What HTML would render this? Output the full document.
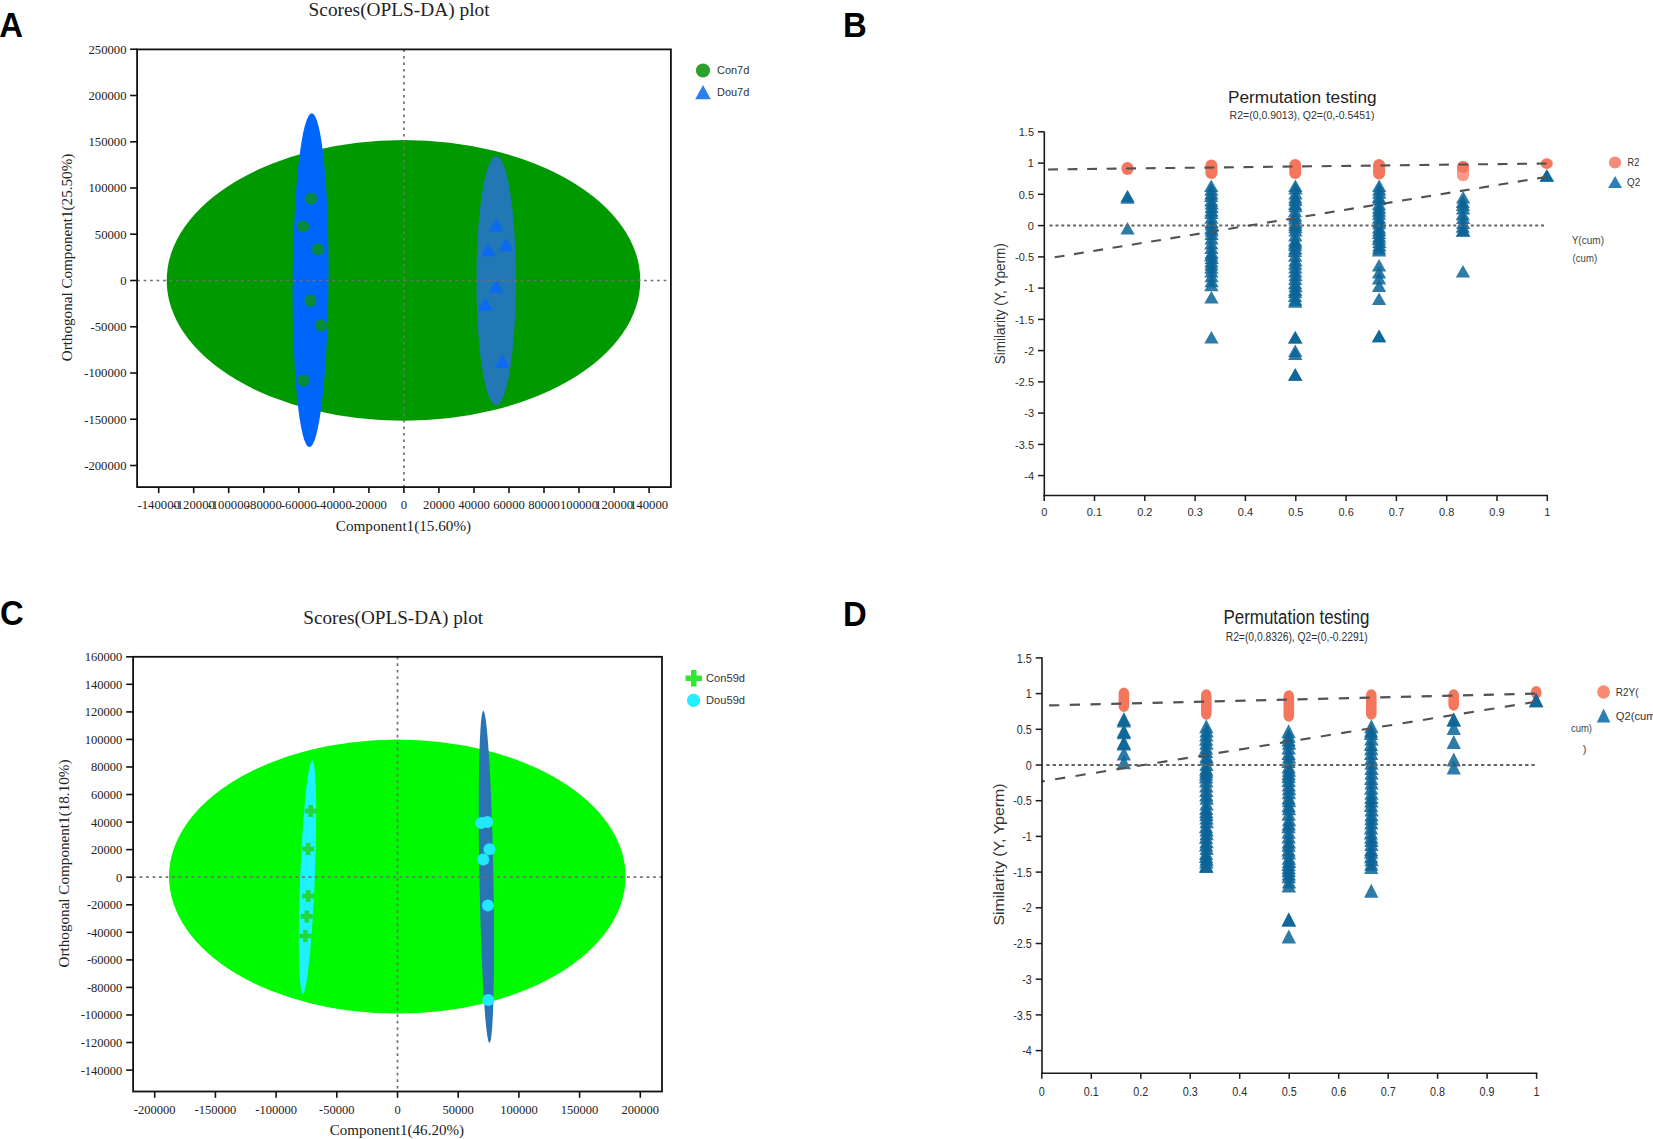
<!DOCTYPE html>
<html><head><meta charset="utf-8"><title>OPLS-DA and permutation testing</title>
<style>html,body{margin:0;padding:0;background:#fff;}svg{display:block;}</style></head>
<body><svg width="1653" height="1139" viewBox="0 0 1653 1139">
<rect width="1653" height="1139" fill="#fff"/>
<text x="0" y="0" transform="translate(-0.8 37.1) scale(0.95 1)" font-family="'Liberation Sans',Arial,sans-serif" font-size="34.6" font-weight="bold" fill="#000">A</text>
<text x="0" y="0" transform="translate(843.0 37.3) scale(0.95 1)" font-family="'Liberation Sans',Arial,sans-serif" font-size="34.6" font-weight="bold" fill="#000">B</text>
<text x="0" y="0" transform="translate(0.0 625.2) scale(0.95 1)" font-family="'Liberation Sans',Arial,sans-serif" font-size="34.6" font-weight="bold" fill="#000">C</text>
<text x="0" y="0" transform="translate(843.0 625.6) scale(0.95 1)" font-family="'Liberation Sans',Arial,sans-serif" font-size="34.6" font-weight="bold" fill="#000">D</text>
<ellipse cx="403.5" cy="280.4" rx="236.8" ry="140.3" fill="#009a00"/>
<ellipse cx="310.6" cy="280.2" rx="17.9" ry="167.0" fill="#0066fb" transform="rotate(0.4 310.6 280.2)"/>
<ellipse cx="496.2" cy="280.7" rx="19.7" ry="124.7" fill="#2178b5"/>
<circle cx="311.1" cy="198.7" r="6.0" fill="#088c3c" fill-opacity="1.0"/>
<circle cx="303.2" cy="226.5" r="6.0" fill="#088c3c" fill-opacity="1.0"/>
<circle cx="318.1" cy="249.2" r="6.0" fill="#088c3c" fill-opacity="1.0"/>
<circle cx="310.5" cy="300.8" r="6.0" fill="#088c3c" fill-opacity="1.0"/>
<circle cx="321.2" cy="325.5" r="6.0" fill="#088c3c" fill-opacity="1.0"/>
<circle cx="303.5" cy="380.5" r="6.0" fill="#088c3c" fill-opacity="1.0"/>
<polygon points="489.0,231.6 503.8,231.6 496.4,218.3" fill="#0b6af0" fill-opacity="1.0"/>
<polygon points="498.6,251.3 513.4,251.3 506.0,238.0" fill="#0b6af0" fill-opacity="1.0"/>
<polygon points="480.9,256.2 495.7,256.2 488.3,242.9" fill="#0b6af0" fill-opacity="1.0"/>
<polygon points="489.0,292.8 503.8,292.8 496.4,279.5" fill="#0b6af0" fill-opacity="1.0"/>
<polygon points="478.0,310.8 492.8,310.8 485.4,297.5" fill="#0b6af0" fill-opacity="1.0"/>
<polygon points="494.9,367.9 509.7,367.9 502.3,354.6" fill="#0b6af0" fill-opacity="1.0"/>
<line x1="403.9" y1="49.4" x2="403.9" y2="487.1" stroke="#707070" stroke-width="1.7" stroke-dasharray="2.7 3.8" />
<line x1="137.1" y1="280.5" x2="670.9" y2="280.5" stroke="#707070" stroke-width="1.7" stroke-dasharray="2.7 3.8" />
<rect x="137.1" y="49.4" width="533.8" height="437.7" fill="none" stroke="#111" stroke-width="1.8"/>
<line x1="130.1" y1="49.2" x2="137.1" y2="49.2" stroke="#111" stroke-width="1.6" />
<text x="126.5" y="53.5" font-family="'Liberation Serif','Times New Roman',serif" font-size="12.7" fill="#222" text-anchor="end" >250000</text>
<line x1="130.1" y1="95.5" x2="137.1" y2="95.5" stroke="#111" stroke-width="1.6" />
<text x="126.5" y="99.8" font-family="'Liberation Serif','Times New Roman',serif" font-size="12.7" fill="#222" text-anchor="end" >200000</text>
<line x1="130.1" y1="141.8" x2="137.1" y2="141.8" stroke="#111" stroke-width="1.6" />
<text x="126.5" y="146.1" font-family="'Liberation Serif','Times New Roman',serif" font-size="12.7" fill="#222" text-anchor="end" >150000</text>
<line x1="130.1" y1="188.0" x2="137.1" y2="188.0" stroke="#111" stroke-width="1.6" />
<text x="126.5" y="192.3" font-family="'Liberation Serif','Times New Roman',serif" font-size="12.7" fill="#222" text-anchor="end" >100000</text>
<line x1="130.1" y1="234.2" x2="137.1" y2="234.2" stroke="#111" stroke-width="1.6" />
<text x="126.5" y="238.6" font-family="'Liberation Serif','Times New Roman',serif" font-size="12.7" fill="#222" text-anchor="end" >50000</text>
<line x1="130.1" y1="280.5" x2="137.1" y2="280.5" stroke="#111" stroke-width="1.6" />
<text x="126.5" y="284.8" font-family="'Liberation Serif','Times New Roman',serif" font-size="12.7" fill="#222" text-anchor="end" >0</text>
<line x1="130.1" y1="326.8" x2="137.1" y2="326.8" stroke="#111" stroke-width="1.6" />
<text x="126.5" y="331.1" font-family="'Liberation Serif','Times New Roman',serif" font-size="12.7" fill="#222" text-anchor="end" >-50000</text>
<line x1="130.1" y1="373.0" x2="137.1" y2="373.0" stroke="#111" stroke-width="1.6" />
<text x="126.5" y="377.3" font-family="'Liberation Serif','Times New Roman',serif" font-size="12.7" fill="#222" text-anchor="end" >-100000</text>
<line x1="130.1" y1="419.2" x2="137.1" y2="419.2" stroke="#111" stroke-width="1.6" />
<text x="126.5" y="423.6" font-family="'Liberation Serif','Times New Roman',serif" font-size="12.7" fill="#222" text-anchor="end" >-150000</text>
<line x1="130.1" y1="465.5" x2="137.1" y2="465.5" stroke="#111" stroke-width="1.6" />
<text x="126.5" y="469.8" font-family="'Liberation Serif','Times New Roman',serif" font-size="12.7" fill="#222" text-anchor="end" >-200000</text>
<line x1="158.7" y1="487.1" x2="158.7" y2="493.1" stroke="#111" stroke-width="1.6" />
<text x="158.7" y="508.8" font-family="'Liberation Serif','Times New Roman',serif" font-size="12.7" fill="#222" text-anchor="middle" >-140000</text>
<line x1="193.7" y1="487.1" x2="193.7" y2="493.1" stroke="#111" stroke-width="1.6" />
<text x="193.7" y="508.8" font-family="'Liberation Serif','Times New Roman',serif" font-size="12.7" fill="#222" text-anchor="middle" >-120000</text>
<line x1="228.7" y1="487.1" x2="228.7" y2="493.1" stroke="#111" stroke-width="1.6" />
<text x="228.7" y="508.8" font-family="'Liberation Serif','Times New Roman',serif" font-size="12.7" fill="#222" text-anchor="middle" >-100000</text>
<line x1="263.8" y1="487.1" x2="263.8" y2="493.1" stroke="#111" stroke-width="1.6" />
<text x="263.8" y="508.8" font-family="'Liberation Serif','Times New Roman',serif" font-size="12.7" fill="#222" text-anchor="middle" >-80000</text>
<line x1="298.8" y1="487.1" x2="298.8" y2="493.1" stroke="#111" stroke-width="1.6" />
<text x="298.8" y="508.8" font-family="'Liberation Serif','Times New Roman',serif" font-size="12.7" fill="#222" text-anchor="middle" >-60000</text>
<line x1="333.8" y1="487.1" x2="333.8" y2="493.1" stroke="#111" stroke-width="1.6" />
<text x="333.8" y="508.8" font-family="'Liberation Serif','Times New Roman',serif" font-size="12.7" fill="#222" text-anchor="middle" >-40000</text>
<line x1="368.9" y1="487.1" x2="368.9" y2="493.1" stroke="#111" stroke-width="1.6" />
<text x="368.9" y="508.8" font-family="'Liberation Serif','Times New Roman',serif" font-size="12.7" fill="#222" text-anchor="middle" >-20000</text>
<line x1="403.9" y1="487.1" x2="403.9" y2="493.1" stroke="#111" stroke-width="1.6" />
<text x="403.9" y="508.8" font-family="'Liberation Serif','Times New Roman',serif" font-size="12.7" fill="#222" text-anchor="middle" >0</text>
<line x1="438.9" y1="487.1" x2="438.9" y2="493.1" stroke="#111" stroke-width="1.6" />
<text x="438.9" y="508.8" font-family="'Liberation Serif','Times New Roman',serif" font-size="12.7" fill="#222" text-anchor="middle" >20000</text>
<line x1="474.0" y1="487.1" x2="474.0" y2="493.1" stroke="#111" stroke-width="1.6" />
<text x="474.0" y="508.8" font-family="'Liberation Serif','Times New Roman',serif" font-size="12.7" fill="#222" text-anchor="middle" >40000</text>
<line x1="509.0" y1="487.1" x2="509.0" y2="493.1" stroke="#111" stroke-width="1.6" />
<text x="509.0" y="508.8" font-family="'Liberation Serif','Times New Roman',serif" font-size="12.7" fill="#222" text-anchor="middle" >60000</text>
<line x1="544.0" y1="487.1" x2="544.0" y2="493.1" stroke="#111" stroke-width="1.6" />
<text x="544.0" y="508.8" font-family="'Liberation Serif','Times New Roman',serif" font-size="12.7" fill="#222" text-anchor="middle" >80000</text>
<line x1="579.0" y1="487.1" x2="579.0" y2="493.1" stroke="#111" stroke-width="1.6" />
<text x="579.0" y="508.8" font-family="'Liberation Serif','Times New Roman',serif" font-size="12.7" fill="#222" text-anchor="middle" >100000</text>
<line x1="614.1" y1="487.1" x2="614.1" y2="493.1" stroke="#111" stroke-width="1.6" />
<text x="614.1" y="508.8" font-family="'Liberation Serif','Times New Roman',serif" font-size="12.7" fill="#222" text-anchor="middle" >120000</text>
<line x1="649.1" y1="487.1" x2="649.1" y2="493.1" stroke="#111" stroke-width="1.6" />
<text x="649.1" y="508.8" font-family="'Liberation Serif','Times New Roman',serif" font-size="12.7" fill="#222" text-anchor="middle" >140000</text>
<text x="308.6" y="16.0" font-family="'Liberation Serif','Times New Roman',serif" font-size="19" fill="#222" textLength="181.0" lengthAdjust="spacingAndGlyphs" >Scores(OPLS-DA) plot</text>
<text x="335.8" y="530.8" font-family="'Liberation Serif','Times New Roman',serif" font-size="15" fill="#222" textLength="135.3" lengthAdjust="spacingAndGlyphs" >Component1(15.60%)</text>
<text x="0.0" y="0.0" font-family="'Liberation Serif','Times New Roman',serif" font-size="15" fill="#222" text-anchor="middle" textLength="207.6" lengthAdjust="spacingAndGlyphs" transform="translate(72.2 257.5) rotate(-90)">Orthogonal Component1(25.50%)</text>
<circle cx="703.0" cy="70.5" r="7.1" fill="#2ca02c" fill-opacity="1.0"/>
<text x="717.0" y="74.1" font-family="'Liberation Sans',Arial,sans-serif" font-size="11" fill="#333" textLength="32.3" lengthAdjust="spacingAndGlyphs" >Con7d</text>
<polygon points="695.2,99.2 710.8,99.2 703.0,85.0" fill="#2e7fea" fill-opacity="1.0"/>
<text x="717.0" y="96.3" font-family="'Liberation Sans',Arial,sans-serif" font-size="11" fill="#333" textLength="32.3" lengthAdjust="spacingAndGlyphs" >Dou7d</text>
<ellipse cx="397.3" cy="876.6" rx="228.3" ry="137.0" fill="#00fb00"/>
<ellipse cx="307.5" cy="877.1" rx="7.3" ry="117.0" fill="#1ef2fe" transform="rotate(2.3 307.5 877.1)"/>
<ellipse cx="486.4" cy="876.9" rx="7.0" ry="166.2" fill="#2a74b4" transform="rotate(-1.07 486.4 876.9)"/>
<path d="M308.4,805.1h4.6v3.7h3.7v4.6h-3.7v3.7h-4.6v-3.7h-3.7v-4.6h3.7z" fill="#20d83a"/>
<path d="M305.9,843.0h4.6v3.7h3.7v4.6h-3.7v3.7h-4.6v-3.7h-3.7v-4.6h3.7z" fill="#20d83a"/>
<path d="M305.9,890.0h4.6v3.7h3.7v4.6h-3.7v3.7h-4.6v-3.7h-3.7v-4.6h3.7z" fill="#20d83a"/>
<path d="M304.5,910.4h4.6v3.7h3.7v4.6h-3.7v3.7h-4.6v-3.7h-3.7v-4.6h3.7z" fill="#20d83a"/>
<path d="M303.1,930.0h4.6v3.7h3.7v4.6h-3.7v3.7h-4.6v-3.7h-3.7v-4.6h3.7z" fill="#20d83a"/>
<circle cx="481.2" cy="823.0" r="6.0" fill="#22e8fb" fill-opacity="1.0"/>
<circle cx="487.3" cy="822.0" r="6.0" fill="#22e8fb" fill-opacity="1.0"/>
<circle cx="489.5" cy="849.2" r="6.0" fill="#22e8fb" fill-opacity="1.0"/>
<circle cx="483.3" cy="859.4" r="6.0" fill="#22e8fb" fill-opacity="1.0"/>
<circle cx="487.9" cy="905.5" r="6.0" fill="#22e8fb" fill-opacity="1.0"/>
<circle cx="488.2" cy="1000.0" r="6.0" fill="#22e8fb" fill-opacity="1.0"/>
<line x1="397.5" y1="656.8" x2="397.5" y2="1091.5" stroke="#707070" stroke-width="1.7" stroke-dasharray="2.7 3.8" />
<line x1="133.1" y1="877.2" x2="662.0" y2="877.2" stroke="#707070" stroke-width="1.7" stroke-dasharray="2.7 3.8" />
<rect x="133.1" y="656.8" width="528.9" height="434.7" fill="none" stroke="#111" stroke-width="1.8"/>
<line x1="126.2" y1="656.8" x2="133.1" y2="656.8" stroke="#111" stroke-width="1.6" />
<text x="122.3" y="661.2" font-family="'Liberation Serif','Times New Roman',serif" font-size="12.5" fill="#222" text-anchor="end" >160000</text>
<line x1="126.2" y1="684.3" x2="133.1" y2="684.3" stroke="#111" stroke-width="1.6" />
<text x="122.3" y="688.7" font-family="'Liberation Serif','Times New Roman',serif" font-size="12.5" fill="#222" text-anchor="end" >140000</text>
<line x1="126.2" y1="711.9" x2="133.1" y2="711.9" stroke="#111" stroke-width="1.6" />
<text x="122.3" y="716.3" font-family="'Liberation Serif','Times New Roman',serif" font-size="12.5" fill="#222" text-anchor="end" >120000</text>
<line x1="126.2" y1="739.4" x2="133.1" y2="739.4" stroke="#111" stroke-width="1.6" />
<text x="122.3" y="743.8" font-family="'Liberation Serif','Times New Roman',serif" font-size="12.5" fill="#222" text-anchor="end" >100000</text>
<line x1="126.2" y1="767.0" x2="133.1" y2="767.0" stroke="#111" stroke-width="1.6" />
<text x="122.3" y="771.4" font-family="'Liberation Serif','Times New Roman',serif" font-size="12.5" fill="#222" text-anchor="end" >80000</text>
<line x1="126.2" y1="794.5" x2="133.1" y2="794.5" stroke="#111" stroke-width="1.6" />
<text x="122.3" y="798.9" font-family="'Liberation Serif','Times New Roman',serif" font-size="12.5" fill="#222" text-anchor="end" >60000</text>
<line x1="126.2" y1="822.1" x2="133.1" y2="822.1" stroke="#111" stroke-width="1.6" />
<text x="122.3" y="826.5" font-family="'Liberation Serif','Times New Roman',serif" font-size="12.5" fill="#222" text-anchor="end" >40000</text>
<line x1="126.2" y1="849.6" x2="133.1" y2="849.6" stroke="#111" stroke-width="1.6" />
<text x="122.3" y="854.0" font-family="'Liberation Serif','Times New Roman',serif" font-size="12.5" fill="#222" text-anchor="end" >20000</text>
<line x1="126.2" y1="877.2" x2="133.1" y2="877.2" stroke="#111" stroke-width="1.6" />
<text x="122.3" y="881.6" font-family="'Liberation Serif','Times New Roman',serif" font-size="12.5" fill="#222" text-anchor="end" >0</text>
<line x1="126.2" y1="904.8" x2="133.1" y2="904.8" stroke="#111" stroke-width="1.6" />
<text x="122.3" y="909.2" font-family="'Liberation Serif','Times New Roman',serif" font-size="12.5" fill="#222" text-anchor="end" >-20000</text>
<line x1="126.2" y1="932.3" x2="133.1" y2="932.3" stroke="#111" stroke-width="1.6" />
<text x="122.3" y="936.7" font-family="'Liberation Serif','Times New Roman',serif" font-size="12.5" fill="#222" text-anchor="end" >-40000</text>
<line x1="126.2" y1="959.9" x2="133.1" y2="959.9" stroke="#111" stroke-width="1.6" />
<text x="122.3" y="964.3" font-family="'Liberation Serif','Times New Roman',serif" font-size="12.5" fill="#222" text-anchor="end" >-60000</text>
<line x1="126.2" y1="987.4" x2="133.1" y2="987.4" stroke="#111" stroke-width="1.6" />
<text x="122.3" y="991.8" font-family="'Liberation Serif','Times New Roman',serif" font-size="12.5" fill="#222" text-anchor="end" >-80000</text>
<line x1="126.2" y1="1015.0" x2="133.1" y2="1015.0" stroke="#111" stroke-width="1.6" />
<text x="122.3" y="1019.4" font-family="'Liberation Serif','Times New Roman',serif" font-size="12.5" fill="#222" text-anchor="end" >-100000</text>
<line x1="126.2" y1="1042.5" x2="133.1" y2="1042.5" stroke="#111" stroke-width="1.6" />
<text x="122.3" y="1046.9" font-family="'Liberation Serif','Times New Roman',serif" font-size="12.5" fill="#222" text-anchor="end" >-120000</text>
<line x1="126.2" y1="1070.1" x2="133.1" y2="1070.1" stroke="#111" stroke-width="1.6" />
<text x="122.3" y="1074.5" font-family="'Liberation Serif','Times New Roman',serif" font-size="12.5" fill="#222" text-anchor="end" >-140000</text>
<line x1="154.7" y1="1091.5" x2="154.7" y2="1097.8" stroke="#111" stroke-width="1.6" />
<text x="154.7" y="1114.3" font-family="'Liberation Serif','Times New Roman',serif" font-size="12.5" fill="#222" text-anchor="middle" >-200000</text>
<line x1="215.4" y1="1091.5" x2="215.4" y2="1097.8" stroke="#111" stroke-width="1.6" />
<text x="215.4" y="1114.3" font-family="'Liberation Serif','Times New Roman',serif" font-size="12.5" fill="#222" text-anchor="middle" >-150000</text>
<line x1="276.1" y1="1091.5" x2="276.1" y2="1097.8" stroke="#111" stroke-width="1.6" />
<text x="276.1" y="1114.3" font-family="'Liberation Serif','Times New Roman',serif" font-size="12.5" fill="#222" text-anchor="middle" >-100000</text>
<line x1="336.8" y1="1091.5" x2="336.8" y2="1097.8" stroke="#111" stroke-width="1.6" />
<text x="336.8" y="1114.3" font-family="'Liberation Serif','Times New Roman',serif" font-size="12.5" fill="#222" text-anchor="middle" >-50000</text>
<line x1="397.5" y1="1091.5" x2="397.5" y2="1097.8" stroke="#111" stroke-width="1.6" />
<text x="397.5" y="1114.3" font-family="'Liberation Serif','Times New Roman',serif" font-size="12.5" fill="#222" text-anchor="middle" >0</text>
<line x1="458.2" y1="1091.5" x2="458.2" y2="1097.8" stroke="#111" stroke-width="1.6" />
<text x="458.2" y="1114.3" font-family="'Liberation Serif','Times New Roman',serif" font-size="12.5" fill="#222" text-anchor="middle" >50000</text>
<line x1="518.9" y1="1091.5" x2="518.9" y2="1097.8" stroke="#111" stroke-width="1.6" />
<text x="518.9" y="1114.3" font-family="'Liberation Serif','Times New Roman',serif" font-size="12.5" fill="#222" text-anchor="middle" >100000</text>
<line x1="579.6" y1="1091.5" x2="579.6" y2="1097.8" stroke="#111" stroke-width="1.6" />
<text x="579.6" y="1114.3" font-family="'Liberation Serif','Times New Roman',serif" font-size="12.5" fill="#222" text-anchor="middle" >150000</text>
<line x1="640.3" y1="1091.5" x2="640.3" y2="1097.8" stroke="#111" stroke-width="1.6" />
<text x="640.3" y="1114.3" font-family="'Liberation Serif','Times New Roman',serif" font-size="12.5" fill="#222" text-anchor="middle" >200000</text>
<text x="303.3" y="623.8" font-family="'Liberation Serif','Times New Roman',serif" font-size="19" fill="#222" textLength="179.8" lengthAdjust="spacingAndGlyphs" >Scores(OPLS-DA) plot</text>
<text x="329.8" y="1134.7" font-family="'Liberation Serif','Times New Roman',serif" font-size="15" fill="#222" textLength="134.2" lengthAdjust="spacingAndGlyphs" >Component1(46.20%)</text>
<text x="0.0" y="0.0" font-family="'Liberation Serif','Times New Roman',serif" font-size="15" fill="#222" text-anchor="middle" textLength="207.9" lengthAdjust="spacingAndGlyphs" transform="translate(69.3 863.5) rotate(-90)">Orthogonal Component1(18.10%)</text>
<path d="M691.0,669.9h5.5v5.5h5.5v5.5h-5.5v5.5h-5.5v-5.5h-5.5v-5.5h5.5z" fill="#33e633"/>
<text x="706.1" y="681.9" font-family="'Liberation Sans',Arial,sans-serif" font-size="11" fill="#333" textLength="38.9" lengthAdjust="spacingAndGlyphs" >Con59d</text>
<circle cx="693.5" cy="700.3" r="6.6" fill="#22f0ff" fill-opacity="1.0"/>
<text x="706.1" y="704.3" font-family="'Liberation Sans',Arial,sans-serif" font-size="11" fill="#333" textLength="38.9" lengthAdjust="spacingAndGlyphs" >Dou59d</text>
<path d="M1121.5,168.0 A6.0,6.0 0 0 1 1133.5,168.0 L1133.5,169.0 A6.0,6.0 0 0 1 1121.5,169.0 Z" fill="#f4765c" fill-opacity="1.0"/>
<path d="M1205.4,165.5 A6.0,6.0 0 0 1 1217.4,165.5 L1217.4,172.9 A6.0,6.0 0 0 1 1205.4,172.9 Z" fill="#f4765c" fill-opacity="1.0"/>
<path d="M1289.2,164.9 A6.0,6.0 0 0 1 1301.2,164.9 L1301.2,172.9 A6.0,6.0 0 0 1 1289.2,172.9 Z" fill="#f4765c" fill-opacity="1.0"/>
<path d="M1373.1,164.9 A6.0,6.0 0 0 1 1385.1,164.9 L1385.1,173.5 A6.0,6.0 0 0 1 1373.1,173.5 Z" fill="#f4765c" fill-opacity="1.0"/>
<path d="M1457.0,167.0 A6.0,6.0 0 0 1 1469.0,167.0 L1469.0,175.2 A6.0,6.0 0 0 1 1457.0,175.2 Z" fill="#f8998a" fill-opacity="1.0"/>
<ellipse cx="1463.0" cy="167.0" rx="6.0" ry="6.0" fill="#f4765c" fill-opacity="1.0"/>
<ellipse cx="1546.8" cy="163.6" rx="6.0" ry="5.3" fill="#f4765c" fill-opacity="1.0"/>
<polygon points="1120.4,202.3 1134.7,202.3 1127.5,189.8" fill="#0a6498" fill-opacity="0.85"/>
<polygon points="1120.4,203.8 1134.7,203.8 1127.5,191.3" fill="#0a6498" fill-opacity="0.85"/>
<polygon points="1120.4,234.4 1134.7,234.4 1127.5,221.9" fill="#0a6498" fill-opacity="0.85"/>
<polygon points="1204.1,192.0 1218.4,192.0 1211.2,179.5" fill="#0a6498" fill-opacity="0.85"/>
<polygon points="1204.2,195.7 1218.5,195.7 1211.3,183.2" fill="#0a6498" fill-opacity="0.85"/>
<polygon points="1204.3,199.6 1218.6,199.6 1211.5,187.1" fill="#0a6498" fill-opacity="0.85"/>
<polygon points="1204.0,202.0 1218.3,202.0 1211.1,189.5" fill="#0a6498" fill-opacity="0.85"/>
<polygon points="1204.1,206.5 1218.4,206.5 1211.3,194.0" fill="#0a6498" fill-opacity="0.85"/>
<polygon points="1204.5,209.4 1218.8,209.4 1211.7,196.9" fill="#0a6498" fill-opacity="0.85"/>
<polygon points="1204.5,212.9 1218.8,212.9 1211.6,200.4" fill="#0a6498" fill-opacity="0.85"/>
<polygon points="1204.3,216.4 1218.6,216.4 1211.5,203.9" fill="#0a6498" fill-opacity="0.85"/>
<polygon points="1204.3,219.0 1218.6,219.0 1211.5,206.5" fill="#0a6498" fill-opacity="0.85"/>
<polygon points="1204.3,223.7 1218.6,223.7 1211.4,211.2" fill="#0a6498" fill-opacity="0.85"/>
<polygon points="1204.4,228.0 1218.7,228.0 1211.5,215.5" fill="#0a6498" fill-opacity="0.85"/>
<polygon points="1204.4,230.3 1218.7,230.3 1211.6,217.8" fill="#0a6498" fill-opacity="0.85"/>
<polygon points="1204.1,234.2 1218.4,234.2 1211.3,221.7" fill="#0a6498" fill-opacity="0.85"/>
<polygon points="1204.5,236.4 1218.8,236.4 1211.6,223.9" fill="#0a6498" fill-opacity="0.85"/>
<polygon points="1204.4,240.0 1218.7,240.0 1211.5,227.5" fill="#0a6498" fill-opacity="0.85"/>
<polygon points="1204.4,244.6 1218.7,244.6 1211.5,232.1" fill="#0a6498" fill-opacity="0.85"/>
<polygon points="1204.2,249.5 1218.5,249.5 1211.3,237.0" fill="#0a6498" fill-opacity="0.85"/>
<polygon points="1204.2,253.9 1218.5,253.9 1211.4,241.4" fill="#0a6498" fill-opacity="0.85"/>
<polygon points="1204.5,258.8 1218.8,258.8 1211.6,246.3" fill="#0a6498" fill-opacity="0.85"/>
<polygon points="1204.0,261.2 1218.3,261.2 1211.2,248.7" fill="#0a6498" fill-opacity="0.85"/>
<polygon points="1204.5,264.0 1218.8,264.0 1211.7,251.5" fill="#0a6498" fill-opacity="0.85"/>
<polygon points="1204.3,267.4 1218.6,267.4 1211.5,254.9" fill="#0a6498" fill-opacity="0.85"/>
<polygon points="1204.3,270.4 1218.6,270.4 1211.4,257.9" fill="#0a6498" fill-opacity="0.85"/>
<polygon points="1204.2,273.7 1218.5,273.7 1211.3,261.2" fill="#0a6498" fill-opacity="0.85"/>
<polygon points="1204.3,277.6 1218.6,277.6 1211.5,265.1" fill="#0a6498" fill-opacity="0.85"/>
<polygon points="1204.4,282.3 1218.7,282.3 1211.5,269.8" fill="#0a6498" fill-opacity="0.85"/>
<polygon points="1204.5,287.2 1218.8,287.2 1211.6,274.7" fill="#0a6498" fill-opacity="0.85"/>
<polygon points="1204.2,291.2 1218.6,291.2 1211.4,278.7" fill="#0a6498" fill-opacity="0.85"/>
<polygon points="1204.2,303.5 1218.6,303.5 1211.4,291.0" fill="#0a6498" fill-opacity="0.85"/>
<polygon points="1204.2,343.5 1218.6,343.5 1211.4,331.0" fill="#0a6498" fill-opacity="0.85"/>
<polygon points="1288.2,192.0 1302.5,192.0 1295.4,179.5" fill="#0a6498" fill-opacity="0.85"/>
<polygon points="1288.3,194.6 1302.6,194.6 1295.5,182.1" fill="#0a6498" fill-opacity="0.85"/>
<polygon points="1288.3,199.6 1302.6,199.6 1295.5,187.1" fill="#0a6498" fill-opacity="0.85"/>
<polygon points="1288.2,203.4 1302.5,203.4 1295.4,190.9" fill="#0a6498" fill-opacity="0.85"/>
<polygon points="1288.3,206.1 1302.6,206.1 1295.4,193.6" fill="#0a6498" fill-opacity="0.85"/>
<polygon points="1288.0,209.9 1302.3,209.9 1295.1,197.4" fill="#0a6498" fill-opacity="0.85"/>
<polygon points="1288.3,212.3 1302.6,212.3 1295.5,199.8" fill="#0a6498" fill-opacity="0.85"/>
<polygon points="1287.9,217.3 1302.2,217.3 1295.0,204.8" fill="#0a6498" fill-opacity="0.85"/>
<polygon points="1288.0,221.8 1302.3,221.8 1295.2,209.3" fill="#0a6498" fill-opacity="0.85"/>
<polygon points="1288.0,224.4 1302.3,224.4 1295.1,211.9" fill="#0a6498" fill-opacity="0.85"/>
<polygon points="1288.3,228.7 1302.6,228.7 1295.5,216.2" fill="#0a6498" fill-opacity="0.85"/>
<polygon points="1288.2,231.0 1302.5,231.0 1295.3,218.5" fill="#0a6498" fill-opacity="0.85"/>
<polygon points="1288.2,233.3 1302.5,233.3 1295.4,220.8" fill="#0a6498" fill-opacity="0.85"/>
<polygon points="1288.3,236.4 1302.6,236.4 1295.5,223.9" fill="#0a6498" fill-opacity="0.85"/>
<polygon points="1288.1,241.4 1302.4,241.4 1295.3,228.9" fill="#0a6498" fill-opacity="0.85"/>
<polygon points="1288.0,246.4 1302.3,246.4 1295.1,233.9" fill="#0a6498" fill-opacity="0.85"/>
<polygon points="1288.2,248.8 1302.5,248.8 1295.3,236.3" fill="#0a6498" fill-opacity="0.85"/>
<polygon points="1287.9,251.1 1302.2,251.1 1295.1,238.6" fill="#0a6498" fill-opacity="0.85"/>
<polygon points="1288.2,254.4 1302.5,254.4 1295.3,241.9" fill="#0a6498" fill-opacity="0.85"/>
<polygon points="1287.8,257.0 1302.1,257.0 1295.0,244.5" fill="#0a6498" fill-opacity="0.85"/>
<polygon points="1288.0,261.7 1302.3,261.7 1295.1,249.2" fill="#0a6498" fill-opacity="0.85"/>
<polygon points="1288.3,266.6 1302.6,266.6 1295.5,254.1" fill="#0a6498" fill-opacity="0.85"/>
<polygon points="1288.1,269.8 1302.4,269.8 1295.2,257.3" fill="#0a6498" fill-opacity="0.85"/>
<polygon points="1288.2,273.5 1302.5,273.5 1295.3,261.0" fill="#0a6498" fill-opacity="0.85"/>
<polygon points="1288.1,277.4 1302.4,277.4 1295.3,264.9" fill="#0a6498" fill-opacity="0.85"/>
<polygon points="1288.4,281.3 1302.7,281.3 1295.5,268.8" fill="#0a6498" fill-opacity="0.85"/>
<polygon points="1288.1,284.9 1302.4,284.9 1295.2,272.4" fill="#0a6498" fill-opacity="0.85"/>
<polygon points="1287.9,289.2 1302.2,289.2 1295.1,276.7" fill="#0a6498" fill-opacity="0.85"/>
<polygon points="1288.4,292.2 1302.7,292.2 1295.5,279.7" fill="#0a6498" fill-opacity="0.85"/>
<polygon points="1288.1,295.9 1302.4,295.9 1295.3,283.4" fill="#0a6498" fill-opacity="0.85"/>
<polygon points="1288.0,298.1 1302.3,298.1 1295.2,285.6" fill="#0a6498" fill-opacity="0.85"/>
<polygon points="1287.8,301.9 1302.1,301.9 1295.0,289.4" fill="#0a6498" fill-opacity="0.85"/>
<polygon points="1288.2,305.8 1302.5,305.8 1295.3,293.3" fill="#0a6498" fill-opacity="0.85"/>
<polygon points="1288.1,307.7 1302.4,307.7 1295.2,295.2" fill="#0a6498" fill-opacity="0.85"/>
<polygon points="1288.1,343.5 1302.4,343.5 1295.2,331.0" fill="#0a6498" fill-opacity="0.85"/>
<polygon points="1288.1,343.5 1302.4,343.5 1295.2,331.0" fill="#0a6498" fill-opacity="0.85"/>
<polygon points="1288.1,357.0 1302.4,357.0 1295.2,344.5" fill="#0a6498" fill-opacity="0.85"/>
<polygon points="1288.1,360.0 1302.4,360.0 1295.2,347.5" fill="#0a6498" fill-opacity="0.85"/>
<polygon points="1288.1,380.8 1302.4,380.8 1295.2,368.3" fill="#0a6498" fill-opacity="0.85"/>
<polygon points="1288.1,380.8 1302.4,380.8 1295.2,368.3" fill="#0a6498" fill-opacity="0.85"/>
<polygon points="1372.0,192.0 1386.3,192.0 1379.2,179.5" fill="#0a6498" fill-opacity="0.85"/>
<polygon points="1372.1,195.5 1386.4,195.5 1379.2,183.0" fill="#0a6498" fill-opacity="0.85"/>
<polygon points="1372.1,198.7 1386.4,198.7 1379.2,186.2" fill="#0a6498" fill-opacity="0.85"/>
<polygon points="1371.7,203.0 1386.0,203.0 1378.8,190.5" fill="#0a6498" fill-opacity="0.85"/>
<polygon points="1372.1,205.3 1386.4,205.3 1379.2,192.8" fill="#0a6498" fill-opacity="0.85"/>
<polygon points="1371.8,210.2 1386.1,210.2 1379.0,197.7" fill="#0a6498" fill-opacity="0.85"/>
<polygon points="1372.0,213.7 1386.3,213.7 1379.2,201.2" fill="#0a6498" fill-opacity="0.85"/>
<polygon points="1371.9,216.8 1386.2,216.8 1379.0,204.3" fill="#0a6498" fill-opacity="0.85"/>
<polygon points="1371.9,219.8 1386.2,219.8 1379.0,207.3" fill="#0a6498" fill-opacity="0.85"/>
<polygon points="1371.8,223.7 1386.1,223.7 1379.0,211.2" fill="#0a6498" fill-opacity="0.85"/>
<polygon points="1372.1,227.0 1386.4,227.0 1379.3,214.5" fill="#0a6498" fill-opacity="0.85"/>
<polygon points="1372.0,229.2 1386.3,229.2 1379.1,216.7" fill="#0a6498" fill-opacity="0.85"/>
<polygon points="1371.8,233.5 1386.1,233.5 1379.0,221.0" fill="#0a6498" fill-opacity="0.85"/>
<polygon points="1372.1,236.3 1386.4,236.3 1379.3,223.8" fill="#0a6498" fill-opacity="0.85"/>
<polygon points="1371.8,239.1 1386.1,239.1 1378.9,226.6" fill="#0a6498" fill-opacity="0.85"/>
<polygon points="1372.1,242.5 1386.4,242.5 1379.2,230.0" fill="#0a6498" fill-opacity="0.85"/>
<polygon points="1371.8,245.0 1386.1,245.0 1379.0,232.5" fill="#0a6498" fill-opacity="0.85"/>
<polygon points="1372.2,248.1 1386.5,248.1 1379.3,235.6" fill="#0a6498" fill-opacity="0.85"/>
<polygon points="1372.2,251.5 1386.5,251.5 1379.3,239.0" fill="#0a6498" fill-opacity="0.85"/>
<polygon points="1371.9,254.2 1386.2,254.2 1379.0,241.7" fill="#0a6498" fill-opacity="0.85"/>
<polygon points="1371.9,256.4 1386.2,256.4 1379.1,243.9" fill="#0a6498" fill-opacity="0.85"/>
<polygon points="1371.9,271.5 1386.2,271.5 1379.1,259.0" fill="#0a6498" fill-opacity="0.85"/>
<polygon points="1371.9,278.5 1386.2,278.5 1379.1,266.0" fill="#0a6498" fill-opacity="0.85"/>
<polygon points="1371.9,284.5 1386.2,284.5 1379.1,272.0" fill="#0a6498" fill-opacity="0.85"/>
<polygon points="1371.9,292.0 1386.2,292.0 1379.1,279.5" fill="#0a6498" fill-opacity="0.85"/>
<polygon points="1371.9,304.9 1386.2,304.9 1379.1,292.4" fill="#0a6498" fill-opacity="0.85"/>
<polygon points="1371.9,342.2 1386.2,342.2 1379.1,329.7" fill="#0a6498" fill-opacity="0.85"/>
<polygon points="1371.9,342.2 1386.2,342.2 1379.1,329.7" fill="#0a6498" fill-opacity="0.85"/>
<polygon points="1456.0,203.6 1470.3,203.6 1463.2,191.1" fill="#0a6498" fill-opacity="0.85"/>
<polygon points="1455.6,207.9 1469.9,207.9 1462.8,195.4" fill="#0a6498" fill-opacity="0.85"/>
<polygon points="1455.8,211.1 1470.1,211.1 1463.0,198.6" fill="#0a6498" fill-opacity="0.85"/>
<polygon points="1456.0,214.4 1470.3,214.4 1463.1,201.9" fill="#0a6498" fill-opacity="0.85"/>
<polygon points="1455.6,220.2 1469.9,220.2 1462.8,207.7" fill="#0a6498" fill-opacity="0.85"/>
<polygon points="1456.0,223.9 1470.3,223.9 1463.1,211.4" fill="#0a6498" fill-opacity="0.85"/>
<polygon points="1456.0,228.9 1470.3,228.9 1463.1,216.4" fill="#0a6498" fill-opacity="0.85"/>
<polygon points="1455.6,232.8 1469.9,232.8 1462.7,220.3" fill="#0a6498" fill-opacity="0.85"/>
<polygon points="1456.0,236.6 1470.3,236.6 1463.1,224.1" fill="#0a6498" fill-opacity="0.85"/>
<polygon points="1455.8,236.8 1470.1,236.8 1463.0,224.3" fill="#0a6498" fill-opacity="0.85"/>
<polygon points="1455.8,277.5 1470.1,277.5 1463.0,265.0" fill="#0a6498" fill-opacity="0.85"/>
<polygon points="1539.7,181.8 1554.0,181.8 1546.8,169.3" fill="#0a6498" fill-opacity="0.85"/>
<polygon points="1539.7,181.8 1554.0,181.8 1546.8,169.3" fill="#0a6498" fill-opacity="0.85"/>
<line x1="1049.6" y1="225.6" x2="1546.5" y2="225.6" stroke="#646464" stroke-width="2.0" stroke-dasharray="3 2.85" />
<line x1="1044.2" y1="169.5" x2="1546.8" y2="163.5" stroke="#525252" stroke-width="2.1" stroke-dasharray="9.9 9.65" stroke-dashoffset="15.75"/>
<line x1="1044.2" y1="259.0" x2="1546.8" y2="176.9" stroke="#525252" stroke-width="2.1" stroke-dasharray="9.9 9.65" stroke-dashoffset="8.9"/>
<line x1="1044.3" y1="131.6" x2="1044.3" y2="496.3" stroke="#1a1a1a" stroke-width="1.6" />
<line x1="1043.5" y1="495.5" x2="1548.1" y2="495.5" stroke="#1a1a1a" stroke-width="1.6" />
<line x1="1038.0" y1="131.8" x2="1044.3" y2="131.8" stroke="#1a1a1a" stroke-width="1.5" />
<text x="0" y="0" transform="translate(1034.0 136.2) scale(1.0 1.03)" font-family="'Liberation Sans',Arial,sans-serif" font-size="11" fill="#2e2e2e" text-anchor="end">1.5</text>
<line x1="1038.0" y1="163.1" x2="1044.3" y2="163.1" stroke="#1a1a1a" stroke-width="1.5" />
<text x="0" y="0" transform="translate(1034.0 167.4) scale(1.0 1.03)" font-family="'Liberation Sans',Arial,sans-serif" font-size="11" fill="#2e2e2e" text-anchor="end">1</text>
<line x1="1038.0" y1="194.3" x2="1044.3" y2="194.3" stroke="#1a1a1a" stroke-width="1.5" />
<text x="0" y="0" transform="translate(1034.0 198.7) scale(1.0 1.03)" font-family="'Liberation Sans',Arial,sans-serif" font-size="11" fill="#2e2e2e" text-anchor="end">0.5</text>
<line x1="1038.0" y1="225.6" x2="1044.3" y2="225.6" stroke="#1a1a1a" stroke-width="1.5" />
<text x="0" y="0" transform="translate(1034.0 229.9) scale(1.0 1.03)" font-family="'Liberation Sans',Arial,sans-serif" font-size="11" fill="#2e2e2e" text-anchor="end">0</text>
<line x1="1038.0" y1="256.9" x2="1044.3" y2="256.9" stroke="#1a1a1a" stroke-width="1.5" />
<text x="0" y="0" transform="translate(1034.0 261.2) scale(1.0 1.03)" font-family="'Liberation Sans',Arial,sans-serif" font-size="11" fill="#2e2e2e" text-anchor="end">-0.5</text>
<line x1="1038.0" y1="288.1" x2="1044.3" y2="288.1" stroke="#1a1a1a" stroke-width="1.5" />
<text x="0" y="0" transform="translate(1034.0 292.4) scale(1.0 1.03)" font-family="'Liberation Sans',Arial,sans-serif" font-size="11" fill="#2e2e2e" text-anchor="end">-1</text>
<line x1="1038.0" y1="319.4" x2="1044.3" y2="319.4" stroke="#1a1a1a" stroke-width="1.5" />
<text x="0" y="0" transform="translate(1034.0 323.7) scale(1.0 1.03)" font-family="'Liberation Sans',Arial,sans-serif" font-size="11" fill="#2e2e2e" text-anchor="end">-1.5</text>
<line x1="1038.0" y1="350.6" x2="1044.3" y2="350.6" stroke="#1a1a1a" stroke-width="1.5" />
<text x="0" y="0" transform="translate(1034.0 354.9) scale(1.0 1.03)" font-family="'Liberation Sans',Arial,sans-serif" font-size="11" fill="#2e2e2e" text-anchor="end">-2</text>
<line x1="1038.0" y1="381.9" x2="1044.3" y2="381.9" stroke="#1a1a1a" stroke-width="1.5" />
<text x="0" y="0" transform="translate(1034.0 386.2) scale(1.0 1.03)" font-family="'Liberation Sans',Arial,sans-serif" font-size="11" fill="#2e2e2e" text-anchor="end">-2.5</text>
<line x1="1038.0" y1="413.1" x2="1044.3" y2="413.1" stroke="#1a1a1a" stroke-width="1.5" />
<text x="0" y="0" transform="translate(1034.0 417.4) scale(1.0 1.03)" font-family="'Liberation Sans',Arial,sans-serif" font-size="11" fill="#2e2e2e" text-anchor="end">-3</text>
<line x1="1038.0" y1="444.4" x2="1044.3" y2="444.4" stroke="#1a1a1a" stroke-width="1.5" />
<text x="0" y="0" transform="translate(1034.0 448.7) scale(1.0 1.03)" font-family="'Liberation Sans',Arial,sans-serif" font-size="11" fill="#2e2e2e" text-anchor="end">-3.5</text>
<line x1="1038.0" y1="475.6" x2="1044.3" y2="475.6" stroke="#1a1a1a" stroke-width="1.5" />
<text x="0" y="0" transform="translate(1034.0 479.9) scale(1.0 1.03)" font-family="'Liberation Sans',Arial,sans-serif" font-size="11" fill="#2e2e2e" text-anchor="end">-4</text>
<line x1="1044.2" y1="495.5" x2="1044.2" y2="501.0" stroke="#1a1a1a" stroke-width="1.5" />
<text x="0" y="0" transform="translate(1044.2 515.8) scale(1.0 1.03)" font-family="'Liberation Sans',Arial,sans-serif" font-size="11" fill="#2e2e2e" text-anchor="middle">0</text>
<line x1="1094.5" y1="495.5" x2="1094.5" y2="501.0" stroke="#1a1a1a" stroke-width="1.5" />
<text x="0" y="0" transform="translate(1094.5 515.8) scale(1.0 1.03)" font-family="'Liberation Sans',Arial,sans-serif" font-size="11" fill="#2e2e2e" text-anchor="middle">0.1</text>
<line x1="1144.8" y1="495.5" x2="1144.8" y2="501.0" stroke="#1a1a1a" stroke-width="1.5" />
<text x="0" y="0" transform="translate(1144.8 515.8) scale(1.0 1.03)" font-family="'Liberation Sans',Arial,sans-serif" font-size="11" fill="#2e2e2e" text-anchor="middle">0.2</text>
<line x1="1195.1" y1="495.5" x2="1195.1" y2="501.0" stroke="#1a1a1a" stroke-width="1.5" />
<text x="0" y="0" transform="translate(1195.1 515.8) scale(1.0 1.03)" font-family="'Liberation Sans',Arial,sans-serif" font-size="11" fill="#2e2e2e" text-anchor="middle">0.3</text>
<line x1="1245.4" y1="495.5" x2="1245.4" y2="501.0" stroke="#1a1a1a" stroke-width="1.5" />
<text x="0" y="0" transform="translate(1245.4 515.8) scale(1.0 1.03)" font-family="'Liberation Sans',Arial,sans-serif" font-size="11" fill="#2e2e2e" text-anchor="middle">0.4</text>
<line x1="1295.8" y1="495.5" x2="1295.8" y2="501.0" stroke="#1a1a1a" stroke-width="1.5" />
<text x="0" y="0" transform="translate(1295.8 515.8) scale(1.0 1.03)" font-family="'Liberation Sans',Arial,sans-serif" font-size="11" fill="#2e2e2e" text-anchor="middle">0.5</text>
<line x1="1346.1" y1="495.5" x2="1346.1" y2="501.0" stroke="#1a1a1a" stroke-width="1.5" />
<text x="0" y="0" transform="translate(1346.1 515.8) scale(1.0 1.03)" font-family="'Liberation Sans',Arial,sans-serif" font-size="11" fill="#2e2e2e" text-anchor="middle">0.6</text>
<line x1="1396.4" y1="495.5" x2="1396.4" y2="501.0" stroke="#1a1a1a" stroke-width="1.5" />
<text x="0" y="0" transform="translate(1396.4 515.8) scale(1.0 1.03)" font-family="'Liberation Sans',Arial,sans-serif" font-size="11" fill="#2e2e2e" text-anchor="middle">0.7</text>
<line x1="1446.7" y1="495.5" x2="1446.7" y2="501.0" stroke="#1a1a1a" stroke-width="1.5" />
<text x="0" y="0" transform="translate(1446.7 515.8) scale(1.0 1.03)" font-family="'Liberation Sans',Arial,sans-serif" font-size="11" fill="#2e2e2e" text-anchor="middle">0.8</text>
<line x1="1497.0" y1="495.5" x2="1497.0" y2="501.0" stroke="#1a1a1a" stroke-width="1.5" />
<text x="0" y="0" transform="translate(1497.0 515.8) scale(1.0 1.03)" font-family="'Liberation Sans',Arial,sans-serif" font-size="11" fill="#2e2e2e" text-anchor="middle">0.9</text>
<line x1="1547.3" y1="495.5" x2="1547.3" y2="501.0" stroke="#1a1a1a" stroke-width="1.5" />
<text x="0" y="0" transform="translate(1547.3 515.8) scale(1.0 1.03)" font-family="'Liberation Sans',Arial,sans-serif" font-size="11" fill="#2e2e2e" text-anchor="middle">1</text>
<text x="1228.0" y="102.8" font-family="'Liberation Sans',Arial,sans-serif" font-size="16.8" fill="#222" textLength="148.6" lengthAdjust="spacingAndGlyphs" >Permutation testing</text>
<text x="1229.6" y="118.6" font-family="'Liberation Sans',Arial,sans-serif" font-size="10" fill="#333" textLength="144.8" lengthAdjust="spacingAndGlyphs" >R2=(0,0.9013), Q2=(0,-0.5451)</text>
<text x="0.0" y="0.0" font-family="'Liberation Sans',Arial,sans-serif" font-size="14" fill="#333" text-anchor="middle" textLength="121.0" lengthAdjust="spacingAndGlyphs" transform="translate(1005.4 303.8) rotate(-90)">Similarity (Y, Yperm)</text>
<circle cx="1615.0" cy="162.5" r="6.1" fill="#f58c7a" fill-opacity="1.0"/>
<text x="1627.5" y="165.9" font-family="'Liberation Sans',Arial,sans-serif" font-size="10" fill="#333" textLength="11.8" lengthAdjust="spacingAndGlyphs" >R2</text>
<polygon points="1608.1,188.0 1622.0,188.0 1615.1,175.9" fill="#2a80b6" fill-opacity="1.0"/>
<text x="1627.0" y="185.8" font-family="'Liberation Sans',Arial,sans-serif" font-size="10" fill="#333" textLength="13.2" lengthAdjust="spacingAndGlyphs" >Q2</text>
<text x="1571.7" y="243.8" font-family="'Liberation Sans',Arial,sans-serif" font-size="10.6" fill="#444" textLength="32.3" lengthAdjust="spacingAndGlyphs" >Y(cum)</text>
<text x="1572.6" y="261.8" font-family="'Liberation Sans',Arial,sans-serif" font-size="10.6" fill="#444" textLength="24.6" lengthAdjust="spacingAndGlyphs" >(cum)</text>
<path d="M1118.6,693.5 A5.3,6.1 0 0 1 1129.2,693.5 L1129.2,705.9 A5.3,6.1 0 0 1 1118.6,705.9 Z" fill="#f4765c" fill-opacity="1.0"/>
<path d="M1201.0,695.4 A5.3,6.1 0 0 1 1211.6,695.4 L1211.6,713.7 A5.3,6.1 0 0 1 1201.0,713.7 Z" fill="#f4765c" fill-opacity="1.0"/>
<path d="M1283.5,696.4 A5.3,6.1 0 0 1 1294.1,696.4 L1294.1,715.7 A5.3,6.1 0 0 1 1283.5,715.7 Z" fill="#f4765c" fill-opacity="1.0"/>
<path d="M1366.0,695.4 A5.3,6.1 0 0 1 1376.6,695.4 L1376.6,713.7 A5.3,6.1 0 0 1 1366.0,713.7 Z" fill="#f4765c" fill-opacity="1.0"/>
<path d="M1448.4,695.3 A5.3,6.1 0 0 1 1459.0,695.3 L1459.0,704.7 A5.3,6.1 0 0 1 1448.4,704.7 Z" fill="#f4765c" fill-opacity="1.0"/>
<path d="M1530.9,692.1 A5.3,6.1 0 0 1 1541.5,692.1 L1541.5,692.9 A5.3,6.1 0 0 1 1530.9,692.9 Z" fill="#f4765c" fill-opacity="1.0"/>
<polygon points="1116.7,726.0 1131.0,726.0 1123.9,712.0" fill="#0a6498" fill-opacity="0.85"/>
<polygon points="1116.7,727.5 1131.0,727.5 1123.9,713.5" fill="#0a6498" fill-opacity="0.85"/>
<polygon points="1116.7,738.0 1131.0,738.0 1123.9,724.0" fill="#0a6498" fill-opacity="0.85"/>
<polygon points="1116.7,739.2 1131.0,739.2 1123.9,725.2" fill="#0a6498" fill-opacity="0.85"/>
<polygon points="1116.7,749.5 1131.0,749.5 1123.9,735.5" fill="#0a6498" fill-opacity="0.85"/>
<polygon points="1116.7,750.5 1131.0,750.5 1123.9,736.5" fill="#0a6498" fill-opacity="0.85"/>
<polygon points="1116.7,760.5 1131.0,760.5 1123.9,746.5" fill="#0a6498" fill-opacity="0.85"/>
<polygon points="1116.7,769.3 1131.0,769.3 1123.9,755.3" fill="#0a6498" fill-opacity="0.85"/>
<polygon points="1199.2,733.3 1213.5,733.3 1206.3,719.3" fill="#0a6498" fill-opacity="0.85"/>
<polygon points="1199.4,737.5 1213.7,737.5 1206.6,723.5" fill="#0a6498" fill-opacity="0.85"/>
<polygon points="1199.2,741.4 1213.5,741.4 1206.3,727.4" fill="#0a6498" fill-opacity="0.85"/>
<polygon points="1199.0,745.7 1213.3,745.7 1206.1,731.7" fill="#0a6498" fill-opacity="0.85"/>
<polygon points="1199.3,749.7 1213.6,749.7 1206.4,735.7" fill="#0a6498" fill-opacity="0.85"/>
<polygon points="1198.9,754.6 1213.2,754.6 1206.1,740.6" fill="#0a6498" fill-opacity="0.85"/>
<polygon points="1198.9,758.0 1213.2,758.0 1206.1,744.0" fill="#0a6498" fill-opacity="0.85"/>
<polygon points="1199.3,763.0 1213.6,763.0 1206.4,749.0" fill="#0a6498" fill-opacity="0.85"/>
<polygon points="1199.5,765.5 1213.8,765.5 1206.6,751.5" fill="#0a6498" fill-opacity="0.85"/>
<polygon points="1199.3,771.0 1213.6,771.0 1206.4,757.0" fill="#0a6498" fill-opacity="0.85"/>
<polygon points="1199.0,775.4 1213.3,775.4 1206.1,761.4" fill="#0a6498" fill-opacity="0.85"/>
<polygon points="1199.2,777.8 1213.5,777.8 1206.4,763.8" fill="#0a6498" fill-opacity="0.85"/>
<polygon points="1199.0,780.4 1213.3,780.4 1206.1,766.4" fill="#0a6498" fill-opacity="0.85"/>
<polygon points="1198.9,783.6 1213.2,783.6 1206.1,769.6" fill="#0a6498" fill-opacity="0.85"/>
<polygon points="1199.1,787.5 1213.4,787.5 1206.3,773.5" fill="#0a6498" fill-opacity="0.85"/>
<polygon points="1199.2,792.6 1213.5,792.6 1206.3,778.6" fill="#0a6498" fill-opacity="0.85"/>
<polygon points="1199.2,797.0 1213.5,797.0 1206.3,783.0" fill="#0a6498" fill-opacity="0.85"/>
<polygon points="1199.2,801.6 1213.5,801.6 1206.3,787.6" fill="#0a6498" fill-opacity="0.85"/>
<polygon points="1199.5,804.8 1213.8,804.8 1206.6,790.8" fill="#0a6498" fill-opacity="0.85"/>
<polygon points="1199.4,810.4 1213.7,810.4 1206.5,796.4" fill="#0a6498" fill-opacity="0.85"/>
<polygon points="1199.1,815.1 1213.4,815.1 1206.2,801.1" fill="#0a6498" fill-opacity="0.85"/>
<polygon points="1199.1,818.2 1213.4,818.2 1206.2,804.2" fill="#0a6498" fill-opacity="0.85"/>
<polygon points="1199.3,820.9 1213.6,820.9 1206.5,806.9" fill="#0a6498" fill-opacity="0.85"/>
<polygon points="1199.4,824.5 1213.7,824.5 1206.5,810.5" fill="#0a6498" fill-opacity="0.85"/>
<polygon points="1199.5,828.2 1213.8,828.2 1206.6,814.2" fill="#0a6498" fill-opacity="0.85"/>
<polygon points="1198.9,833.3 1213.2,833.3 1206.0,819.3" fill="#0a6498" fill-opacity="0.85"/>
<polygon points="1199.4,836.4 1213.7,836.4 1206.6,822.4" fill="#0a6498" fill-opacity="0.85"/>
<polygon points="1199.5,840.3 1213.8,840.3 1206.6,826.3" fill="#0a6498" fill-opacity="0.85"/>
<polygon points="1198.9,843.9 1213.2,843.9 1206.1,829.9" fill="#0a6498" fill-opacity="0.85"/>
<polygon points="1199.4,848.3 1213.7,848.3 1206.5,834.3" fill="#0a6498" fill-opacity="0.85"/>
<polygon points="1198.9,851.6 1213.2,851.6 1206.1,837.6" fill="#0a6498" fill-opacity="0.85"/>
<polygon points="1199.5,855.1 1213.8,855.1 1206.6,841.1" fill="#0a6498" fill-opacity="0.85"/>
<polygon points="1199.0,859.9 1213.3,859.9 1206.1,845.9" fill="#0a6498" fill-opacity="0.85"/>
<polygon points="1198.9,863.1 1213.2,863.1 1206.1,849.1" fill="#0a6498" fill-opacity="0.85"/>
<polygon points="1199.4,865.7 1213.7,865.7 1206.5,851.7" fill="#0a6498" fill-opacity="0.85"/>
<polygon points="1199.2,868.6 1213.5,868.6 1206.4,854.6" fill="#0a6498" fill-opacity="0.85"/>
<polygon points="1199.0,872.5 1213.3,872.5 1206.1,858.5" fill="#0a6498" fill-opacity="0.85"/>
<polygon points="1199.2,872.9 1213.5,872.9 1206.3,858.9" fill="#0a6498" fill-opacity="0.85"/>
<polygon points="1281.4,738.2 1295.7,738.2 1288.6,724.2" fill="#0a6498" fill-opacity="0.85"/>
<polygon points="1281.4,742.7 1295.7,742.7 1288.6,728.7" fill="#0a6498" fill-opacity="0.85"/>
<polygon points="1281.5,746.4 1295.8,746.4 1288.6,732.4" fill="#0a6498" fill-opacity="0.85"/>
<polygon points="1281.9,749.7 1296.2,749.7 1289.1,735.7" fill="#0a6498" fill-opacity="0.85"/>
<polygon points="1281.5,754.6 1295.8,754.6 1288.7,740.6" fill="#0a6498" fill-opacity="0.85"/>
<polygon points="1281.5,759.9 1295.8,759.9 1288.6,745.9" fill="#0a6498" fill-opacity="0.85"/>
<polygon points="1281.9,763.5 1296.2,763.5 1289.0,749.5" fill="#0a6498" fill-opacity="0.85"/>
<polygon points="1281.4,768.0 1295.7,768.0 1288.6,754.0" fill="#0a6498" fill-opacity="0.85"/>
<polygon points="1281.5,773.6 1295.8,773.6 1288.6,759.6" fill="#0a6498" fill-opacity="0.85"/>
<polygon points="1281.8,776.8 1296.1,776.8 1289.0,762.8" fill="#0a6498" fill-opacity="0.85"/>
<polygon points="1281.5,780.2 1295.8,780.2 1288.7,766.2" fill="#0a6498" fill-opacity="0.85"/>
<polygon points="1281.4,782.9 1295.7,782.9 1288.6,768.9" fill="#0a6498" fill-opacity="0.85"/>
<polygon points="1281.5,787.1 1295.8,787.1 1288.6,773.1" fill="#0a6498" fill-opacity="0.85"/>
<polygon points="1281.6,791.5 1295.9,791.5 1288.7,777.5" fill="#0a6498" fill-opacity="0.85"/>
<polygon points="1281.9,795.3 1296.2,795.3 1289.1,781.3" fill="#0a6498" fill-opacity="0.85"/>
<polygon points="1281.7,799.3 1296.0,799.3 1288.8,785.3" fill="#0a6498" fill-opacity="0.85"/>
<polygon points="1281.5,804.4 1295.8,804.4 1288.6,790.4" fill="#0a6498" fill-opacity="0.85"/>
<polygon points="1281.9,807.3 1296.2,807.3 1289.0,793.3" fill="#0a6498" fill-opacity="0.85"/>
<polygon points="1281.5,812.3 1295.8,812.3 1288.6,798.3" fill="#0a6498" fill-opacity="0.85"/>
<polygon points="1281.8,815.3 1296.1,815.3 1288.9,801.3" fill="#0a6498" fill-opacity="0.85"/>
<polygon points="1281.5,820.8 1295.8,820.8 1288.6,806.8" fill="#0a6498" fill-opacity="0.85"/>
<polygon points="1281.9,826.2 1296.2,826.2 1289.0,812.2" fill="#0a6498" fill-opacity="0.85"/>
<polygon points="1281.6,830.5 1295.9,830.5 1288.8,816.5" fill="#0a6498" fill-opacity="0.85"/>
<polygon points="1281.4,833.3 1295.7,833.3 1288.5,819.3" fill="#0a6498" fill-opacity="0.85"/>
<polygon points="1281.5,838.7 1295.8,838.7 1288.6,824.7" fill="#0a6498" fill-opacity="0.85"/>
<polygon points="1281.5,843.4 1295.8,843.4 1288.7,829.4" fill="#0a6498" fill-opacity="0.85"/>
<polygon points="1281.7,848.4 1296.0,848.4 1288.9,834.4" fill="#0a6498" fill-opacity="0.85"/>
<polygon points="1281.5,851.8 1295.8,851.8 1288.6,837.8" fill="#0a6498" fill-opacity="0.85"/>
<polygon points="1281.4,856.5 1295.7,856.5 1288.5,842.5" fill="#0a6498" fill-opacity="0.85"/>
<polygon points="1281.7,859.6 1296.0,859.6 1288.8,845.6" fill="#0a6498" fill-opacity="0.85"/>
<polygon points="1281.7,864.7 1296.0,864.7 1288.9,850.7" fill="#0a6498" fill-opacity="0.85"/>
<polygon points="1281.9,868.0 1296.2,868.0 1289.1,854.0" fill="#0a6498" fill-opacity="0.85"/>
<polygon points="1281.4,871.1 1295.7,871.1 1288.5,857.1" fill="#0a6498" fill-opacity="0.85"/>
<polygon points="1281.6,874.3 1295.9,874.3 1288.8,860.3" fill="#0a6498" fill-opacity="0.85"/>
<polygon points="1281.5,876.9 1295.8,876.9 1288.6,862.9" fill="#0a6498" fill-opacity="0.85"/>
<polygon points="1281.7,880.5 1296.0,880.5 1288.8,866.5" fill="#0a6498" fill-opacity="0.85"/>
<polygon points="1281.6,883.3 1295.9,883.3 1288.7,869.3" fill="#0a6498" fill-opacity="0.85"/>
<polygon points="1281.9,888.6 1296.2,888.6 1289.1,874.6" fill="#0a6498" fill-opacity="0.85"/>
<polygon points="1281.6,892.6 1296.0,892.6 1288.8,878.6" fill="#0a6498" fill-opacity="0.85"/>
<polygon points="1281.6,926.6 1296.0,926.6 1288.8,912.6" fill="#0a6498" fill-opacity="0.85"/>
<polygon points="1281.6,926.6 1296.0,926.6 1288.8,912.6" fill="#0a6498" fill-opacity="0.85"/>
<polygon points="1281.6,943.6 1296.0,943.6 1288.8,929.6" fill="#0a6498" fill-opacity="0.85"/>
<polygon points="1364.2,733.3 1378.5,733.3 1371.4,719.3" fill="#0a6498" fill-opacity="0.85"/>
<polygon points="1363.9,737.6 1378.2,737.6 1371.1,723.6" fill="#0a6498" fill-opacity="0.85"/>
<polygon points="1363.8,740.1 1378.1,740.1 1371.0,726.1" fill="#0a6498" fill-opacity="0.85"/>
<polygon points="1364.2,745.4 1378.5,745.4 1371.4,731.4" fill="#0a6498" fill-opacity="0.85"/>
<polygon points="1363.8,750.9 1378.1,750.9 1371.0,736.9" fill="#0a6498" fill-opacity="0.85"/>
<polygon points="1364.1,755.3 1378.4,755.3 1371.3,741.3" fill="#0a6498" fill-opacity="0.85"/>
<polygon points="1364.0,760.0 1378.3,760.0 1371.2,746.0" fill="#0a6498" fill-opacity="0.85"/>
<polygon points="1363.9,765.6 1378.2,765.6 1371.0,751.6" fill="#0a6498" fill-opacity="0.85"/>
<polygon points="1364.3,769.8 1378.6,769.8 1371.4,755.8" fill="#0a6498" fill-opacity="0.85"/>
<polygon points="1364.3,775.1 1378.6,775.1 1371.4,761.1" fill="#0a6498" fill-opacity="0.85"/>
<polygon points="1364.3,779.7 1378.6,779.7 1371.4,765.7" fill="#0a6498" fill-opacity="0.85"/>
<polygon points="1364.0,785.1 1378.3,785.1 1371.2,771.1" fill="#0a6498" fill-opacity="0.85"/>
<polygon points="1364.4,789.6 1378.7,789.6 1371.5,775.6" fill="#0a6498" fill-opacity="0.85"/>
<polygon points="1364.1,794.8 1378.4,794.8 1371.2,780.8" fill="#0a6498" fill-opacity="0.85"/>
<polygon points="1364.3,799.8 1378.6,799.8 1371.5,785.8" fill="#0a6498" fill-opacity="0.85"/>
<polygon points="1364.2,804.0 1378.5,804.0 1371.3,790.0" fill="#0a6498" fill-opacity="0.85"/>
<polygon points="1364.2,807.6 1378.5,807.6 1371.3,793.6" fill="#0a6498" fill-opacity="0.85"/>
<polygon points="1363.9,812.0 1378.2,812.0 1371.0,798.0" fill="#0a6498" fill-opacity="0.85"/>
<polygon points="1364.4,816.4 1378.7,816.4 1371.6,802.4" fill="#0a6498" fill-opacity="0.85"/>
<polygon points="1364.3,821.6 1378.6,821.6 1371.4,807.6" fill="#0a6498" fill-opacity="0.85"/>
<polygon points="1364.3,825.3 1378.6,825.3 1371.4,811.3" fill="#0a6498" fill-opacity="0.85"/>
<polygon points="1364.1,829.5 1378.4,829.5 1371.2,815.5" fill="#0a6498" fill-opacity="0.85"/>
<polygon points="1363.9,834.6 1378.2,834.6 1371.0,820.6" fill="#0a6498" fill-opacity="0.85"/>
<polygon points="1363.8,839.4 1378.1,839.4 1371.0,825.4" fill="#0a6498" fill-opacity="0.85"/>
<polygon points="1364.1,843.7 1378.4,843.7 1371.3,829.7" fill="#0a6498" fill-opacity="0.85"/>
<polygon points="1364.2,846.9 1378.5,846.9 1371.4,832.9" fill="#0a6498" fill-opacity="0.85"/>
<polygon points="1364.2,850.9 1378.5,850.9 1371.3,836.9" fill="#0a6498" fill-opacity="0.85"/>
<polygon points="1364.0,856.2 1378.3,856.2 1371.1,842.2" fill="#0a6498" fill-opacity="0.85"/>
<polygon points="1364.0,858.7 1378.3,858.7 1371.1,844.7" fill="#0a6498" fill-opacity="0.85"/>
<polygon points="1363.9,863.2 1378.2,863.2 1371.1,849.2" fill="#0a6498" fill-opacity="0.85"/>
<polygon points="1364.4,866.2 1378.7,866.2 1371.5,852.2" fill="#0a6498" fill-opacity="0.85"/>
<polygon points="1364.1,870.7 1378.4,870.7 1371.2,856.7" fill="#0a6498" fill-opacity="0.85"/>
<polygon points="1364.1,874.1 1378.4,874.1 1371.3,860.1" fill="#0a6498" fill-opacity="0.85"/>
<polygon points="1364.1,897.8 1378.4,897.8 1371.3,883.8" fill="#0a6498" fill-opacity="0.85"/>
<polygon points="1446.6,726.5 1460.9,726.5 1453.7,712.5" fill="#0a6498" fill-opacity="0.85"/>
<polygon points="1446.6,726.5 1460.9,726.5 1453.7,712.5" fill="#0a6498" fill-opacity="0.85"/>
<polygon points="1446.6,735.0 1460.9,735.0 1453.7,721.0" fill="#0a6498" fill-opacity="0.85"/>
<polygon points="1446.6,749.0 1460.9,749.0 1453.7,735.0" fill="#0a6498" fill-opacity="0.85"/>
<polygon points="1446.6,766.4 1460.9,766.4 1453.7,752.4" fill="#0a6498" fill-opacity="0.85"/>
<polygon points="1446.6,774.5 1460.9,774.5 1453.7,760.5" fill="#0a6498" fill-opacity="0.85"/>
<polygon points="1529.0,707.2 1543.3,707.2 1536.2,693.2" fill="#0a6498" fill-opacity="0.85"/>
<polygon points="1529.0,707.2 1543.3,707.2 1536.2,693.2" fill="#0a6498" fill-opacity="0.85"/>
<line x1="1046.3" y1="765.0" x2="1535.8" y2="765.0" stroke="#646464" stroke-width="2.1" stroke-dasharray="3.4 2.9" />
<line x1="1041.8" y1="705.6" x2="1536.2" y2="693.6" stroke="#525252" stroke-width="2.1" stroke-dasharray="10.2 10.5" stroke-dashoffset="13.4"/>
<line x1="1041.8" y1="781.4" x2="1536.2" y2="701.7" stroke="#525252" stroke-width="2.1" stroke-dasharray="10.2 10.5" stroke-dashoffset="7.2"/>
<line x1="1042.0" y1="657.2" x2="1042.0" y2="1074.0" stroke="#1a1a1a" stroke-width="1.6" />
<line x1="1041.2" y1="1073.2" x2="1537.4" y2="1073.2" stroke="#1a1a1a" stroke-width="1.6" />
<line x1="1035.7" y1="657.9" x2="1042.0" y2="657.9" stroke="#1a1a1a" stroke-width="1.5" />
<text x="0" y="0" transform="translate(1031.8 662.5) scale(0.983 1.16)" font-family="'Liberation Sans',Arial,sans-serif" font-size="11" fill="#2e2e2e" text-anchor="end">1.5</text>
<line x1="1035.7" y1="693.6" x2="1042.0" y2="693.6" stroke="#1a1a1a" stroke-width="1.5" />
<text x="0" y="0" transform="translate(1031.8 698.2) scale(0.983 1.16)" font-family="'Liberation Sans',Arial,sans-serif" font-size="11" fill="#2e2e2e" text-anchor="end">1</text>
<line x1="1035.7" y1="729.3" x2="1042.0" y2="729.3" stroke="#1a1a1a" stroke-width="1.5" />
<text x="0" y="0" transform="translate(1031.8 733.9) scale(0.983 1.16)" font-family="'Liberation Sans',Arial,sans-serif" font-size="11" fill="#2e2e2e" text-anchor="end">0.5</text>
<line x1="1035.7" y1="765.0" x2="1042.0" y2="765.0" stroke="#1a1a1a" stroke-width="1.5" />
<text x="0" y="0" transform="translate(1031.8 769.6) scale(0.983 1.16)" font-family="'Liberation Sans',Arial,sans-serif" font-size="11" fill="#2e2e2e" text-anchor="end">0</text>
<line x1="1035.7" y1="800.7" x2="1042.0" y2="800.7" stroke="#1a1a1a" stroke-width="1.5" />
<text x="0" y="0" transform="translate(1031.8 805.3) scale(0.983 1.16)" font-family="'Liberation Sans',Arial,sans-serif" font-size="11" fill="#2e2e2e" text-anchor="end">-0.5</text>
<line x1="1035.7" y1="836.4" x2="1042.0" y2="836.4" stroke="#1a1a1a" stroke-width="1.5" />
<text x="0" y="0" transform="translate(1031.8 841.0) scale(0.983 1.16)" font-family="'Liberation Sans',Arial,sans-serif" font-size="11" fill="#2e2e2e" text-anchor="end">-1</text>
<line x1="1035.7" y1="872.1" x2="1042.0" y2="872.1" stroke="#1a1a1a" stroke-width="1.5" />
<text x="0" y="0" transform="translate(1031.8 876.7) scale(0.983 1.16)" font-family="'Liberation Sans',Arial,sans-serif" font-size="11" fill="#2e2e2e" text-anchor="end">-1.5</text>
<line x1="1035.7" y1="907.8" x2="1042.0" y2="907.8" stroke="#1a1a1a" stroke-width="1.5" />
<text x="0" y="0" transform="translate(1031.8 912.4) scale(0.983 1.16)" font-family="'Liberation Sans',Arial,sans-serif" font-size="11" fill="#2e2e2e" text-anchor="end">-2</text>
<line x1="1035.7" y1="943.5" x2="1042.0" y2="943.5" stroke="#1a1a1a" stroke-width="1.5" />
<text x="0" y="0" transform="translate(1031.8 948.1) scale(0.983 1.16)" font-family="'Liberation Sans',Arial,sans-serif" font-size="11" fill="#2e2e2e" text-anchor="end">-2.5</text>
<line x1="1035.7" y1="979.2" x2="1042.0" y2="979.2" stroke="#1a1a1a" stroke-width="1.5" />
<text x="0" y="0" transform="translate(1031.8 983.8) scale(0.983 1.16)" font-family="'Liberation Sans',Arial,sans-serif" font-size="11" fill="#2e2e2e" text-anchor="end">-3</text>
<line x1="1035.7" y1="1014.9" x2="1042.0" y2="1014.9" stroke="#1a1a1a" stroke-width="1.5" />
<text x="0" y="0" transform="translate(1031.8 1019.5) scale(0.983 1.16)" font-family="'Liberation Sans',Arial,sans-serif" font-size="11" fill="#2e2e2e" text-anchor="end">-3.5</text>
<line x1="1035.7" y1="1050.6" x2="1042.0" y2="1050.6" stroke="#1a1a1a" stroke-width="1.5" />
<text x="0" y="0" transform="translate(1031.8 1055.2) scale(0.983 1.16)" font-family="'Liberation Sans',Arial,sans-serif" font-size="11" fill="#2e2e2e" text-anchor="end">-4</text>
<line x1="1041.8" y1="1073.2" x2="1041.8" y2="1078.8" stroke="#1a1a1a" stroke-width="1.5" />
<text x="0" y="0" transform="translate(1041.8 1095.9) scale(0.983 1.16)" font-family="'Liberation Sans',Arial,sans-serif" font-size="11" fill="#2e2e2e" text-anchor="middle">0</text>
<line x1="1091.3" y1="1073.2" x2="1091.3" y2="1078.8" stroke="#1a1a1a" stroke-width="1.5" />
<text x="0" y="0" transform="translate(1091.3 1095.9) scale(0.983 1.16)" font-family="'Liberation Sans',Arial,sans-serif" font-size="11" fill="#2e2e2e" text-anchor="middle">0.1</text>
<line x1="1140.8" y1="1073.2" x2="1140.8" y2="1078.8" stroke="#1a1a1a" stroke-width="1.5" />
<text x="0" y="0" transform="translate(1140.8 1095.9) scale(0.983 1.16)" font-family="'Liberation Sans',Arial,sans-serif" font-size="11" fill="#2e2e2e" text-anchor="middle">0.2</text>
<line x1="1190.2" y1="1073.2" x2="1190.2" y2="1078.8" stroke="#1a1a1a" stroke-width="1.5" />
<text x="0" y="0" transform="translate(1190.2 1095.9) scale(0.983 1.16)" font-family="'Liberation Sans',Arial,sans-serif" font-size="11" fill="#2e2e2e" text-anchor="middle">0.3</text>
<line x1="1239.7" y1="1073.2" x2="1239.7" y2="1078.8" stroke="#1a1a1a" stroke-width="1.5" />
<text x="0" y="0" transform="translate(1239.7 1095.9) scale(0.983 1.16)" font-family="'Liberation Sans',Arial,sans-serif" font-size="11" fill="#2e2e2e" text-anchor="middle">0.4</text>
<line x1="1289.2" y1="1073.2" x2="1289.2" y2="1078.8" stroke="#1a1a1a" stroke-width="1.5" />
<text x="0" y="0" transform="translate(1289.2 1095.9) scale(0.983 1.16)" font-family="'Liberation Sans',Arial,sans-serif" font-size="11" fill="#2e2e2e" text-anchor="middle">0.5</text>
<line x1="1338.7" y1="1073.2" x2="1338.7" y2="1078.8" stroke="#1a1a1a" stroke-width="1.5" />
<text x="0" y="0" transform="translate(1338.7 1095.9) scale(0.983 1.16)" font-family="'Liberation Sans',Arial,sans-serif" font-size="11" fill="#2e2e2e" text-anchor="middle">0.6</text>
<line x1="1388.2" y1="1073.2" x2="1388.2" y2="1078.8" stroke="#1a1a1a" stroke-width="1.5" />
<text x="0" y="0" transform="translate(1388.2 1095.9) scale(0.983 1.16)" font-family="'Liberation Sans',Arial,sans-serif" font-size="11" fill="#2e2e2e" text-anchor="middle">0.7</text>
<line x1="1437.6" y1="1073.2" x2="1437.6" y2="1078.8" stroke="#1a1a1a" stroke-width="1.5" />
<text x="0" y="0" transform="translate(1437.6 1095.9) scale(0.983 1.16)" font-family="'Liberation Sans',Arial,sans-serif" font-size="11" fill="#2e2e2e" text-anchor="middle">0.8</text>
<line x1="1487.1" y1="1073.2" x2="1487.1" y2="1078.8" stroke="#1a1a1a" stroke-width="1.5" />
<text x="0" y="0" transform="translate(1487.1 1095.9) scale(0.983 1.16)" font-family="'Liberation Sans',Arial,sans-serif" font-size="11" fill="#2e2e2e" text-anchor="middle">0.9</text>
<line x1="1536.6" y1="1073.2" x2="1536.6" y2="1078.8" stroke="#1a1a1a" stroke-width="1.5" />
<text x="0" y="0" transform="translate(1536.6 1095.9) scale(0.983 1.16)" font-family="'Liberation Sans',Arial,sans-serif" font-size="11" fill="#2e2e2e" text-anchor="middle">1</text>
<text x="1223.5" y="623.9" font-family="'Liberation Sans',Arial,sans-serif" font-size="19.4" fill="#222" textLength="145.9" lengthAdjust="spacingAndGlyphs" >Permutation testing</text>
<text x="1225.7" y="641.0" font-family="'Liberation Sans',Arial,sans-serif" font-size="12.0" fill="#333" textLength="142.1" lengthAdjust="spacingAndGlyphs" >R2=(0,0.8326), Q2=(0,-0.2291)</text>
<text x="0.0" y="0.0" font-family="'Liberation Sans',Arial,sans-serif" font-size="14.4" fill="#333" text-anchor="middle" textLength="142.1" lengthAdjust="spacingAndGlyphs" transform="translate(1004.1 854.5) rotate(-90)">Similarity (Y, Yperm)</text>
<ellipse cx="1603.6" cy="692.0" rx="6.4" ry="6.8" fill="#f98a73"/>
<text x="1615.7" y="696.3" font-family="'Liberation Sans',Arial,sans-serif" font-size="11.6" fill="#333" textLength="22.8" lengthAdjust="spacingAndGlyphs" >R2Y(</text>
<polygon points="1596.8,722.5 1610.4,722.5 1603.6,708.6" fill="#2a80b6" fill-opacity="1.0"/>
<text x="1615.7" y="719.6" font-family="'Liberation Sans',Arial,sans-serif" font-size="11.6" fill="#333" textLength="40.0" lengthAdjust="spacingAndGlyphs" >Q2(cum</text>
<text x="1570.9" y="731.5" font-family="'Liberation Sans',Arial,sans-serif" font-size="11.0" fill="#444" textLength="21.1" lengthAdjust="spacingAndGlyphs" >cum)</text>
<text x="1582.8" y="753.0" font-family="'Liberation Sans',Arial,sans-serif" font-size="11.0" fill="#444" >)</text>
</svg></body></html>
